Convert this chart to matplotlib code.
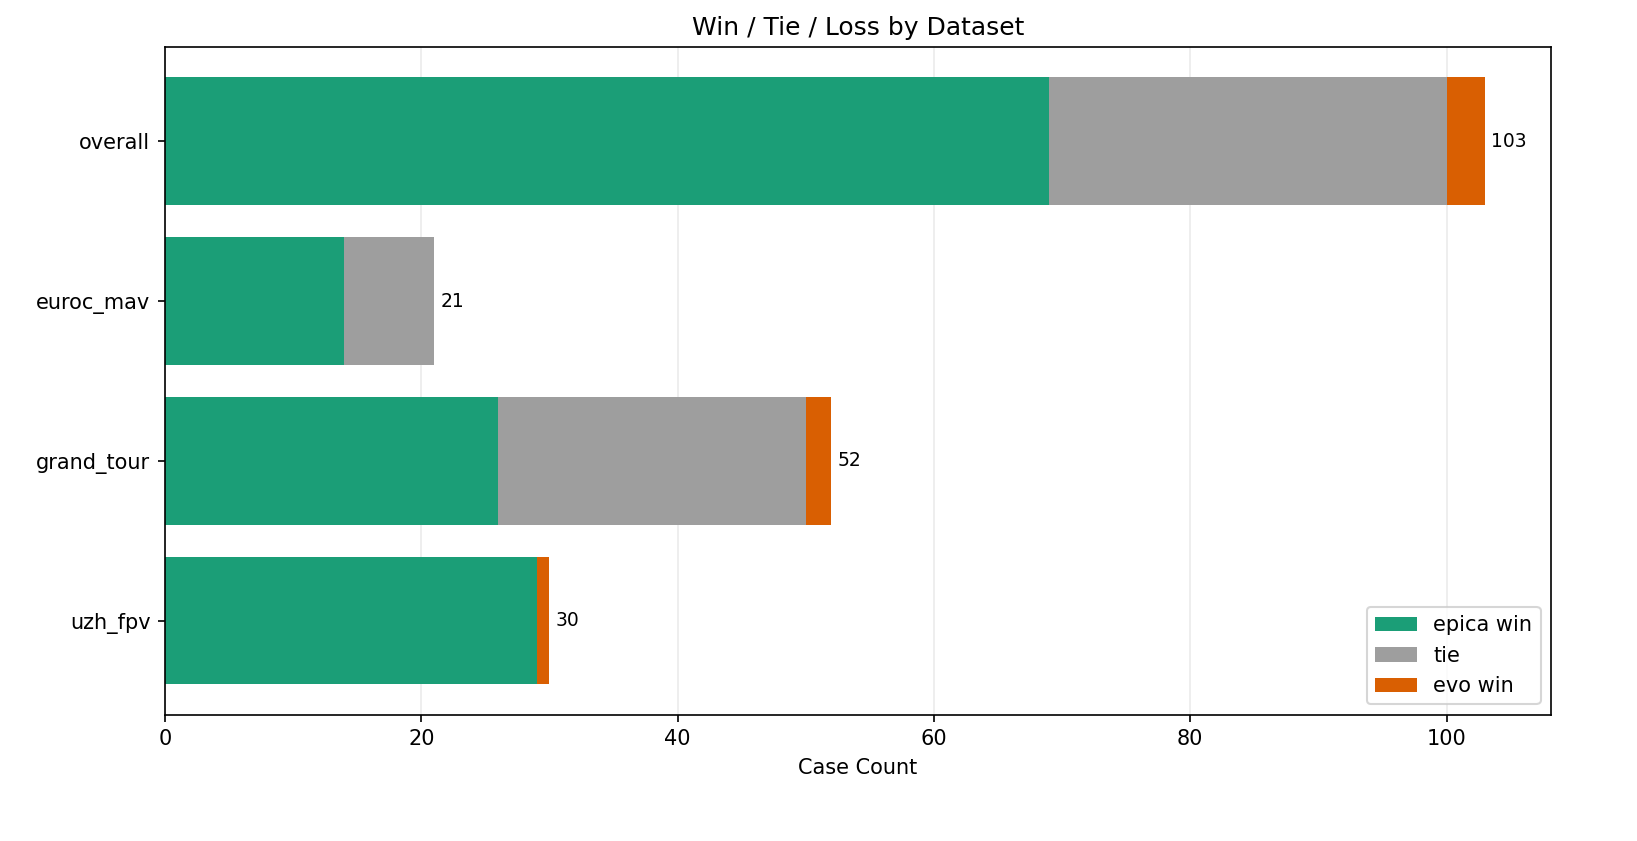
import matplotlib
matplotlib.use("Agg")
import matplotlib.pyplot as plt
import numpy as np

# data
datasets = ["overall", "euroc_mav", "grand_tour", "uzh_fpv"]
epica_win = [69, 14, 26, 29]
tie = [31, 7, 24, 0]
evo_win = [3, 0, 2, 1]

fig, ax = plt.subplots(figsize=(1637 / 150, 841 / 150), dpi=150)

y = np.arange(len(datasets))
epica = np.array(epica_win)
ties = np.array(tie)
evo = np.array(evo_win)
totals = epica + ties + evo

ax.barh(y, epica, height=0.8, color="#1b9e77", label="epica win")
ax.barh(y, ties, left=epica, height=0.8, color="#9e9e9e", label="tie")
ax.barh(y, evo, left=epica + ties, height=0.8, color="#d95f02", label="evo win")

for yi, t in zip(y, totals):
    ax.text(t + 0.5, yi, str(t), va="center", ha="left", fontsize=9)

ax.set_yticks(y)
ax.set_yticklabels(datasets)
ax.invert_yaxis()
ax.set_xlim(0, totals.max() * 1.05)
ax.set_xlabel("Case Count")
ax.set_title("Win / Tie / Loss by Dataset")
ax.grid(axis="x", alpha=0.25)
ax.set_axisbelow(True)
ax.legend(loc="lower right")

fig.subplots_adjust(left=0.1008, right=0.9475, top=0.944, bottom=0.150)
fig.savefig("out.png", dpi=150)
